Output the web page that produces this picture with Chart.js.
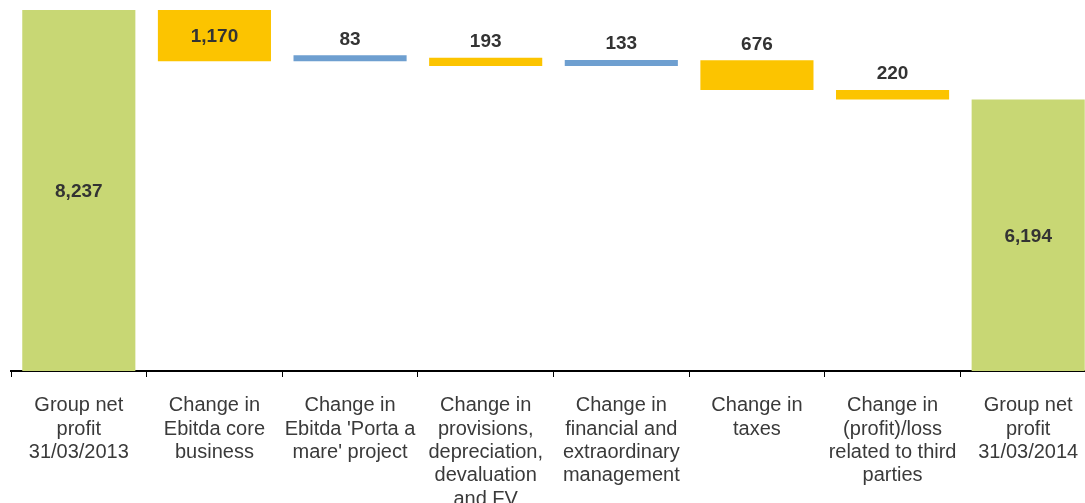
<!DOCTYPE html>
<html>
<head>
<meta charset="utf-8">
<script src="https://cdn.jsdelivr.net/npm/chart.js@4"></script>
<style>
  html, body { margin: 0; padding: 0; background: #fff; overflow: hidden; }
  #wrap { width: 1096px; height: 528px; }
</style>
</head>
<body>
<div id="wrap"><canvas id="myChart"></canvas></div>
<script>
const categories = [
  ["Group net", "profit", "31/03/2013"],
  ["Change in", "Ebitda core", "business"],
  ["Change in", "Ebitda 'Porta a", "mare' project"],
  ["Change in", "provisions,", "depreciation,", "devaluation", "and FV"],
  ["Change in", "financial and", "extraordinary", "management"],
  ["Change in", "taxes"],
  ["Change in", "(profit)/loss", "related to third", "parties"],
  ["Group net", "profit", "31/03/2014"]
];
const openingProfit = 8237;
const changes = [-1170, 83, -193, 133, -676, -220];
const closingProfit = 6194;

const totalColor = "#c8d774";
const downColor = "#fcc400";
const upColor = "#6e9fd0";

// floating bars for the waterfall
const ranges = [[0, openingProfit]];
const shown = [openingProfit];
const colors = [totalColor];
let running = openingProfit;
changes.forEach(function (c) {
  ranges.push([running, running + c]);
  running += c;
  shown.push(Math.abs(c));
  colors.push(c < 0 ? downColor : upColor);
});
ranges.push([0, closingProfit]);
shown.push(closingProfit);
colors.push(totalColor);

const valueLabels = {
  id: "valueLabels",
  afterDatasetsDraw(chart) {
    const ctx = chart.ctx;
    const meta = chart.getDatasetMeta(0);
    ctx.save();
    ctx.font = "bold 19px 'Liberation Sans', Arial, sans-serif";
    ctx.fillStyle = "#333333";
    ctx.textAlign = "center";
    ctx.textBaseline = "middle";
    meta.data.forEach(function (bar, i) {
      const top = Math.min(bar.y, bar.base);
      const h = Math.abs(bar.y - bar.base);
      const txt = shown[i].toLocaleString("en-US");
      if (h > 40) {
        ctx.fillText(txt, bar.x, top + h / 2 + 1);
      } else {
        ctx.fillText(txt, bar.x, top - 16);
      }
    });
    ctx.restore();
  }
};

new Chart("myChart", {
  type: "bar",
  data: {
    labels: categories,
    datasets: [{
      data: ranges,
      backgroundColor: colors,
      borderWidth: 0,
      barPercentage: 0.834,
      categoryPercentage: 1,
      minBarLength: 6
    }]
  },
  options: {
    responsive: true,
    maintainAspectRatio: false,
    animation: false,
    layout: { padding: { left: 11, top: 10, right: 0, bottom: 0 } },
    plugins: {
      legend: { display: false },
      tooltip: { enabled: false }
    },
    scales: {
      x: {
        grid: {
          drawOnChartArea: false,
          drawTicks: true,
          tickLength: 6,
          color: "#000"
        },
        border: { color: "#000", width: 2 },
        ticks: {
          color: "#3a3a3a",
          padding: 17,
          maxRotation: 0,
          autoSkip: false,
          font: { family: "'Liberation Sans', Arial, sans-serif", size: 20, lineHeight: 1.17 }
        }
      },
      y: {
        display: false,
        min: 0,
        max: openingProfit
      }
    }
  },
  plugins: [valueLabels]
});
</script>
</body>
</html>
